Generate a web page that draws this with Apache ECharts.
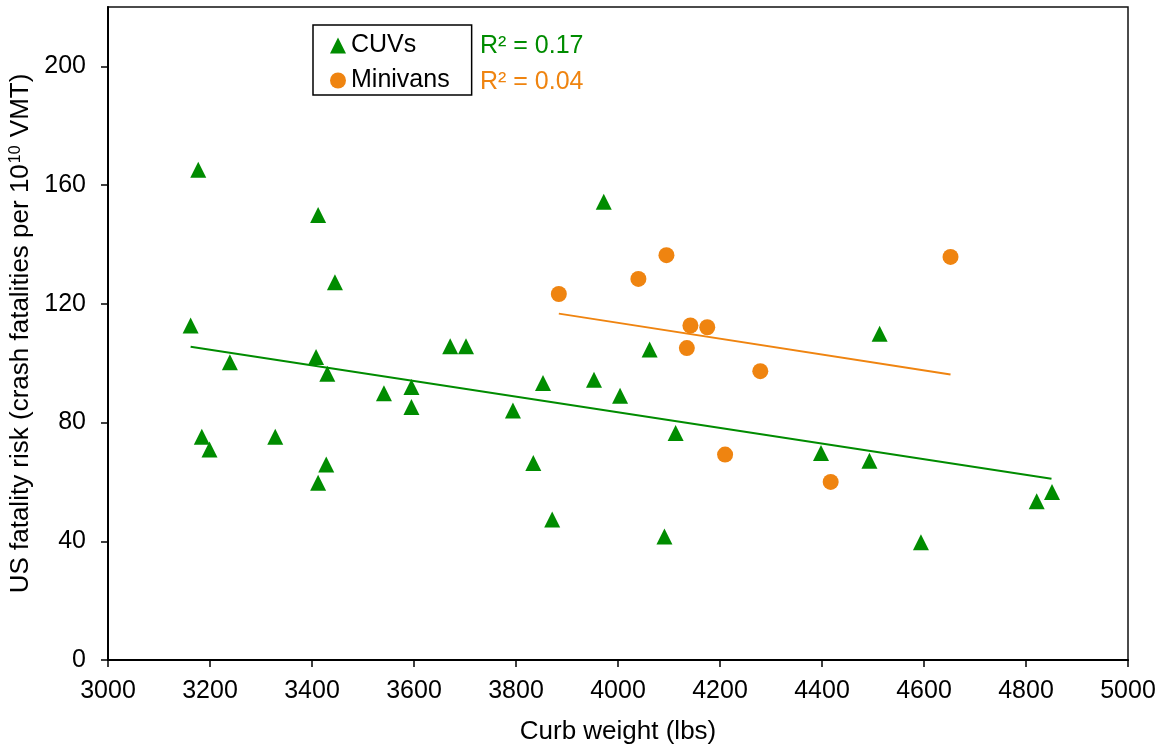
<!DOCTYPE html>
<html>
<head>
<meta charset="utf-8">
<script src="https://cdn.jsdelivr.net/npm/echarts@6/dist/echarts.min.js"></script>
<style>
html,body{margin:0;padding:0;background:#fff;}
#chart{width:1163px;height:747px;}
</style>
</head>
<body>
<div id="chart"></div>
<script>
// CUVs: curb weight (lbs), fatality risk
var cuvWeight = [3162,3177,3184,3199,3239,3328,3408,3412,3412,3428,3430,3445,3541,3595,3595,3671,3702,3794,3834,3853,3871,3953,3972,4004,4062,4091,4113,4398,4493,4513,4594,4821,4851];
var cuvRisk   = [112.7,165.2,75.2,70.9,100.3,75.2,102.1,149.9,59.7,65.9,96.4,127.3,89.9,92.0,85.2,105.7,105.7,84.1,66.4,93.3,47.3,94.4,154.4,89.0,104.6,41.6,76.5,69.7,67.1,109.9,39.7,53.5,56.6];
// Minivans
var vanWeight = [3884,4040,4095,4135,4142,4175,4210,4279,4417,4652];
var vanRisk   = [123.3,128.4,136.4,105.1,112.7,112.1,69.2,97.3,60.0,135.8];
// Trendline endpoints
var cuvTrendX = [3162,4850];
var cuvTrendY = [105.5,61.1];
var vanTrendX = [3884,4652];
var vanTrendY = [116.7,96.2];
var xTicks = [3000,3200,3400,3600,3800,4000,4200,4400,4600,4800,5000];
var yTicks = [0,40,80,120,160,200];
var r2Labels = ['R\u00B2 = 0.17','R\u00B2 = 0.04'];

var GREEN = '#008C00';
var ORANGE = '#EF8410';
var FONT = '"Liberation Sans", Arial, sans-serif';

function pairs(xs, ys){ return xs.map(function(x,i){ return [x, ys[i]]; }); }

var chart = echarts.init(document.getElementById('chart'), null, {renderer:'canvas'});
chart.setOption({
  animation:false,
  backgroundColor:'#fff',
  textStyle:{fontFamily:FONT},
  grid:{left:108, right:35, top:7, bottom:87, containLabel:false, outerBoundsMode:'none',
        show:true, borderColor:'#111', borderWidth:1.5, backgroundColor:'transparent'},
  xAxis:{
    type:'value', min:xTicks[0], max:xTicks[xTicks.length-1], interval:200,
    name:'Curb weight (lbs)', nameLocation:'middle', nameGap:59,
    nameTextStyle:{fontSize:26, color:'#000', fontFamily:FONT},
    axisLine:{show:true, onZero:false, lineStyle:{color:'#000', width:2}},
    axisTick:{show:true, length:7, lineStyle:{color:'#000', width:1.5}},
    axisLabel:{fontSize:25, color:'#000', margin:19, fontFamily:FONT,
      formatter:function(v){ return String(v); }},
    splitLine:{show:false}
  },
  yAxis:{
    type:'value', min:0, max:220, interval:40,
    name:'{a|US fatality risk (crash fatalities per 10}{s|10}{a| VMT)}',
    nameLocation:'middle', nameGap:70,
    nameTextStyle:{color:'#000', fontFamily:FONT,
      rich:{
        a:{fontSize:26, color:'#000', fontFamily:FONT, lineHeight:28, verticalAlign:'middle'},
        s:{fontSize:16, color:'#000', fontFamily:FONT, lineHeight:28, verticalAlign:'top', padding:[1,1,0,1]}
      }},
    axisLine:{show:true, onZero:false, lineStyle:{color:'#000', width:2}},
    axisTick:{show:true, length:7, customValues:yTicks, lineStyle:{color:'#000', width:1.5}},
    axisLabel:{fontSize:25, color:'#000', margin:22, fontFamily:FONT, customValues:yTicks,
      formatter:function(v){ return yTicks.indexOf(v) >= 0 ? String(v) : ''; }},
    splitLine:{show:false}
  },
  legend:{
    orient:'vertical', left:313, top:25,
    data:['CUVs','Minivans'],
    borderColor:'#000', borderWidth:1.5, borderRadius:0,
    padding:[8,22,2,17], itemGap:10, itemWidth:16, itemHeight:16,
    textStyle:{fontSize:25, color:'#000', fontFamily:FONT},
    backgroundColor:'#fff'
  },
  graphic:[
    {type:'text', left:480, top:34, style:{text:r2Labels[0], fill:GREEN, font:'25px ' + FONT}},
    {type:'text', left:480, top:70, style:{text:r2Labels[1], fill:ORANGE, font:'25px ' + FONT}}
  ],
  series:[
    {name:'CUVs trend', type:'line', data:pairs(cuvTrendX,cuvTrendY), symbol:'none', silent:true,
     lineStyle:{color:GREEN, width:2}, z:1},
    {name:'Minivans trend', type:'line', data:pairs(vanTrendX,vanTrendY), symbol:'none', silent:true,
     lineStyle:{color:ORANGE, width:2}, z:1},
    {name:'CUVs', type:'scatter', symbol:'triangle', symbolSize:16, data:pairs(cuvWeight,cuvRisk),
     itemStyle:{color:GREEN, opacity:1}, z:3},
    {name:'Minivans', type:'scatter', symbol:'circle', symbolSize:16, data:pairs(vanWeight,vanRisk),
     itemStyle:{color:ORANGE, opacity:1}, z:3}
  ]
});
</script>
</body>
</html>
